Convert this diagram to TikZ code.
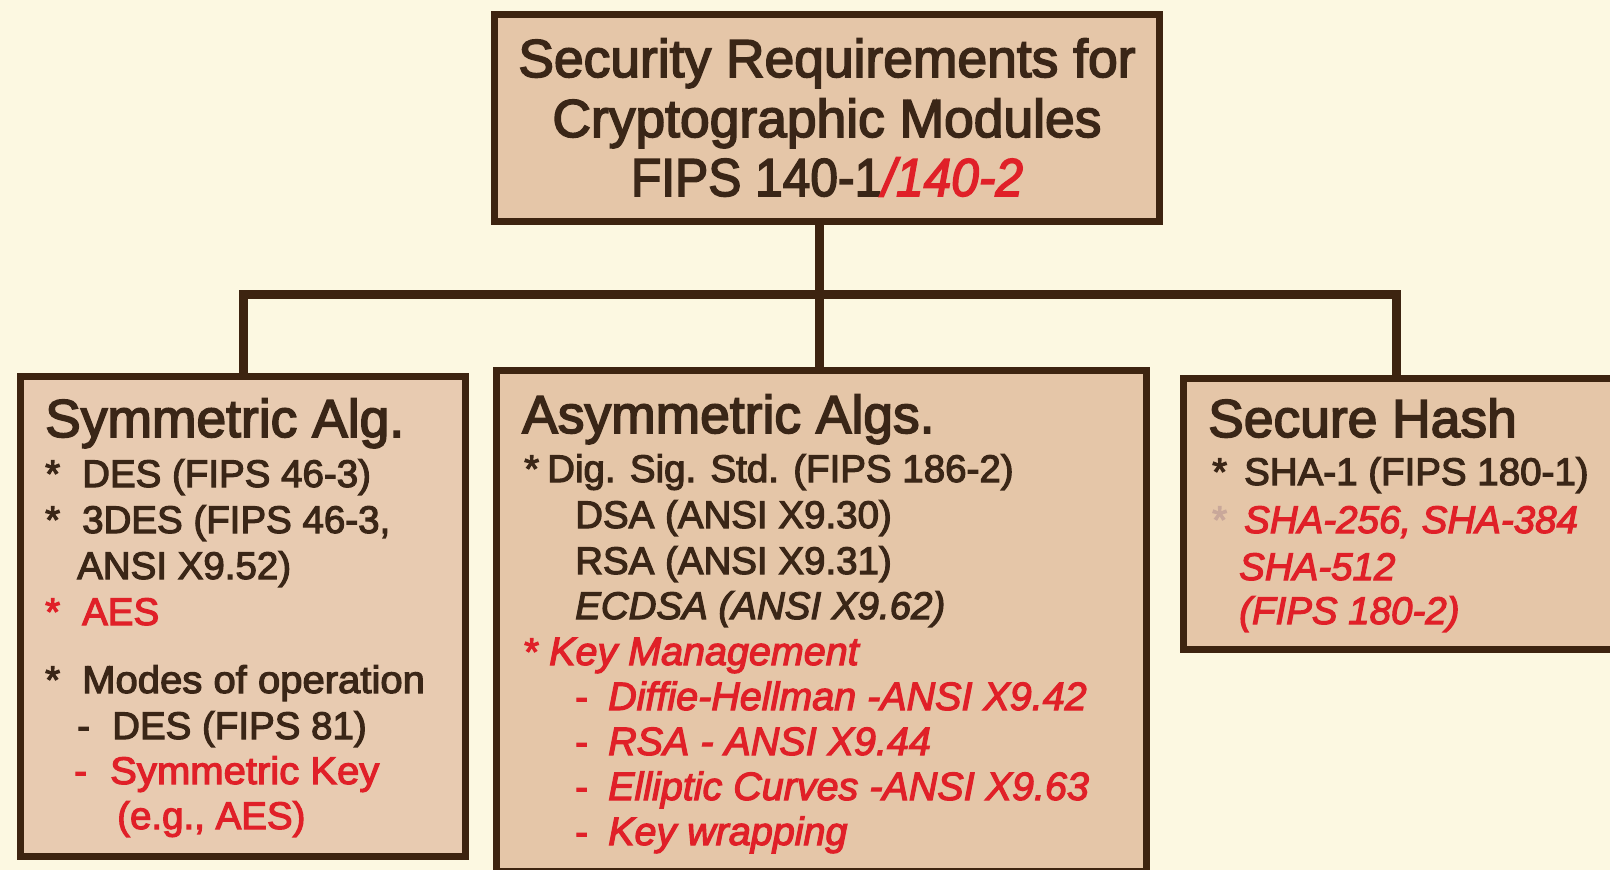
\documentclass[tikz,border=0pt]{standalone}
\usepackage{fontspec}
\usepackage{graphicx}
\setmainfont{Liberation Sans}[FakeBold=3]
\definecolor{bgcol}{HTML}{FCF8E1}
\definecolor{boxfill}{HTML}{E5C6A8}
\definecolor{leftfill}{HTML}{E8CBB1}
\definecolor{edge}{HTML}{3D2410}
\definecolor{ink}{HTML}{3A2617}
\definecolor{alarm}{HTML}{E02028}
\definecolor{faint}{HTML}{C9A89A}
\begin{document}
\begin{tikzpicture}[x=1pt,y=-1pt,
  box/.style={draw=edge, line width=7pt, fill=boxfill, rectangle, inner sep=0pt, anchor=north west},
  conn/.style={draw=edge, line width=9pt, line join=miter},
  body/.style={anchor=base west, inner sep=0pt, text=ink, font=\fontsize{38.5}{46}\selectfont},
  head/.style={body, font=\fontsize{53.4}{61}\selectfont},
  redtxt/.style={text=alarm},
  redit/.style={text=alarm, font=\fontsize{39.5}{46}\selectfont\itshape}]
\useasboundingbox (0,0) rectangle (1610,870);
\clip (0,0) rectangle (1610,870);
\fill[bgcol] (0,0) rectangle (1610,870);

% boxes
\node[box, minimum width=665pt, minimum height=207pt] (top) at (491,11) {};
\node[box, fill=leftfill, minimum width=445pt, minimum height=480pt] (lft) at (17,373) {};
\node[box, minimum width=650pt, minimum height=501pt] (mid) at (493,367) {};
\node[box, minimum width=450pt, minimum height=271pt] (rgt) at (1180,375) {};

% connectors
\coordinate (j) at (819,294);
\coordinate (lj) at (243,294);
\coordinate (rj) at (1396,294);
\draw[conn] (top.south -| j) -- (mid.north -| j);
\draw[conn] (lft.north -| lj) -- (lj) -- (rj) -- (rgt.north -| rj);

% top box text
\node[head, anchor=base] (h1) at (827,77) {Security Requirements for};
\node[head, anchor=base] (h2) at (827,137) {Cryptographic Modules};
\node[head, anchor=base] (h3) at (827,196) {\scalebox{0.93}[1]{FIPS 140-1\textcolor{alarm}{\itshape/140-2}}};

% left box
\node[head] (l0) at (45,437) {Symmetric Alg.};
\node[body] (l1a) at (45,487) {*};
\node[body] (l1) at (82,487) {DES (FIPS 46-3)};
\node[body] (l2a) at (45,533) {*};
\node[body] (l2) at (82,533) {3DES (FIPS 46-3,};
\node[body] (l3) at (77,579) {ANSI X9.52)};
\node[body, redtxt] (l4a) at (45,625) {*};
\node[body, redtxt] (l4) at (82,625) {AES};
\node[body] (l5a) at (45,693) {*};
\node[body] (l5) at (82,693) {\scalebox{1.04}[1]{Modes of operation}};
\node[body] (l6a) at (77,739) {-};
\node[body] (l6) at (112,739) {DES (FIPS 81)};
\node[body, redtxt] (l7a) at (74,784) {-};
\node[body, redtxt] (l7) at (110,784) {\scalebox{1.04}[1]{Symmetric Key}};
\node[body, redtxt] (l8) at (117,829) {(e.g., AES)};

% middle box
\node[head] (m0) at (522,433) {Asymmetric Algs.};
\node[body] (m1a) at (524,482) {*};
\node[body] (m1) at (547,482) {Dig. Sig. Std. (FIPS 186-2)};
\node[body] (m2) at (575,528) {DSA (ANSI X9.30)};
\node[body] (m3) at (575,574) {RSA (ANSI X9.31)};
\node[body, font=\fontsize{38.5}{46}\selectfont\itshape] (m4) at (575,619) {ECDSA (ANSI X9.62)};
\node[body, redtxt] (m5a) at (524,665) {*};
\node[body, redit] (m5) at (549,665) {Key Management};
\node[body, redtxt] (m6a) at (575,710) {-};
\node[body, redit] (m6) at (608,710) {Diffie-Hellman -ANSI X9.42};
\node[body, redtxt] (m7a) at (575,755) {-};
\node[body, redit] (m7) at (608,755) {RSA - ANSI X9.44};
\node[body, redtxt] (m8a) at (575,800) {-};
\node[body, redit] (m8) at (608,800) {Elliptic Curves -ANSI X9.63};
\node[body, redtxt] (m9a) at (575,845) {-};
\node[body, redit] (m9) at (608,845) {Key wrapping};

% right box
\node[head] (r0) at (1208,437) {Secure Hash};
\node[body] (r1a) at (1212,485) {*};
\node[body] (r1) at (1244,485) {SHA-1 (FIPS 180-1)};
\node[body, text=faint] (r2a) at (1212,533) {*};
\node[body, redit, font=\fontsize{38.5}{46}\selectfont\itshape] (r2) at (1244,533) {SHA-256, SHA-384};
\node[body, redit, font=\fontsize{38.5}{46}\selectfont\itshape] (r3) at (1239,580) {SHA-512};
\node[body, redit, font=\fontsize{38.5}{46}\selectfont\itshape] (r4) at (1239,624) {(FIPS 180-2)};
\end{tikzpicture}
\end{document}
